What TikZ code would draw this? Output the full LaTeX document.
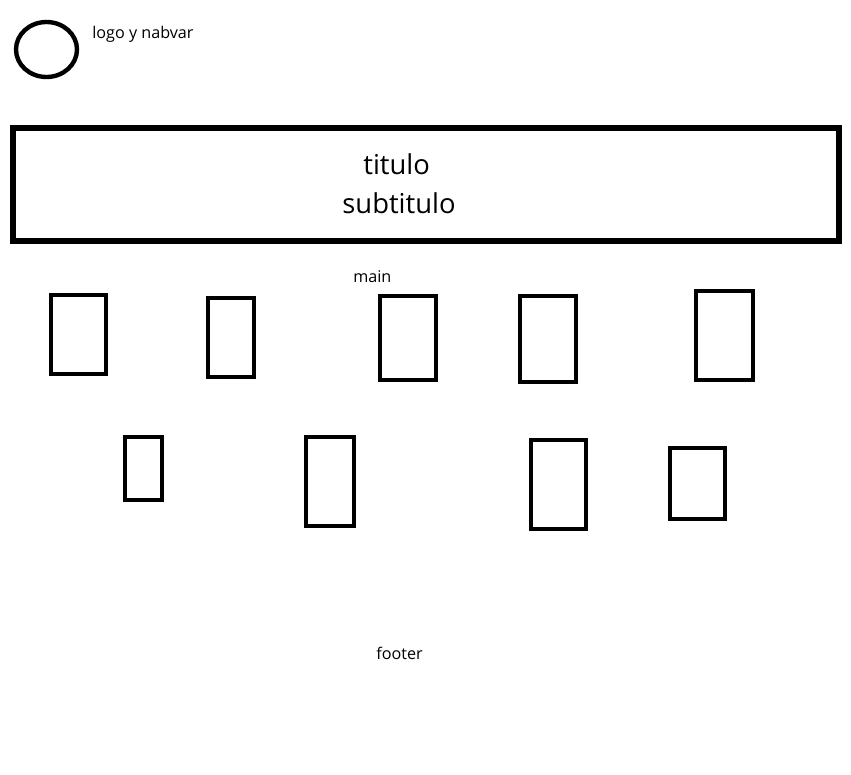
\documentclass[tikz,border=0pt]{standalone}
\usepackage{fontspec}
\setmainfont{Open Sans}
\usetikzlibrary{positioning}

\tikzset{
	box/.style={draw,line width=2.8pt},
	banner/.style={draw,line width=3.2pt},
	small/.style={inner sep=0pt,anchor=base west,font=\fontsize{9.2}{11}\selectfont},
	big/.style={inner sep=0pt,anchor=base west,font=\fontsize{15.6}{22}\selectfont}
}

\begin{document}
\begin{tikzpicture}[x=0.02cm,y=-0.02cm]
	\useasboundingbox (0,0) rectangle (851,774);
	
	% cabecera
	\draw[line width=2.5pt] (46.5,49.5) ellipse [x radius=30.5, y radius=27.5];
	\node[small] (nav) at (92,38) {logo y nabvar};
	
	\draw[banner] (13,128) rectangle (839,241);
	\node[big] (titulo) at (363,174) {titulo};
	\node[big] (subtitulo) at (342,213) {subtitulo};
	
	% main
	\node[small] (main) at (353,282) {main};
	\draw[box] (51,295) rectangle (106,374);
	\draw[box] (208,298) rectangle (254,377);
	\draw[box] (380,296) rectangle (436,380);
	\draw[box] (520,296) rectangle (576,382);
	\draw[box] (696,291) rectangle (753,380);
	
	\draw[box] (125,437) rectangle (162,500);
	\draw[box] (306,437) rectangle (354,526);
	\draw[box] (531,440) rectangle (586,529);
	\draw[box] (670,448) rectangle (725,519);
	
	% footer
	\node[small] (footer) at (376,659) {footer};
	
\end{tikzpicture}
\end{document}
